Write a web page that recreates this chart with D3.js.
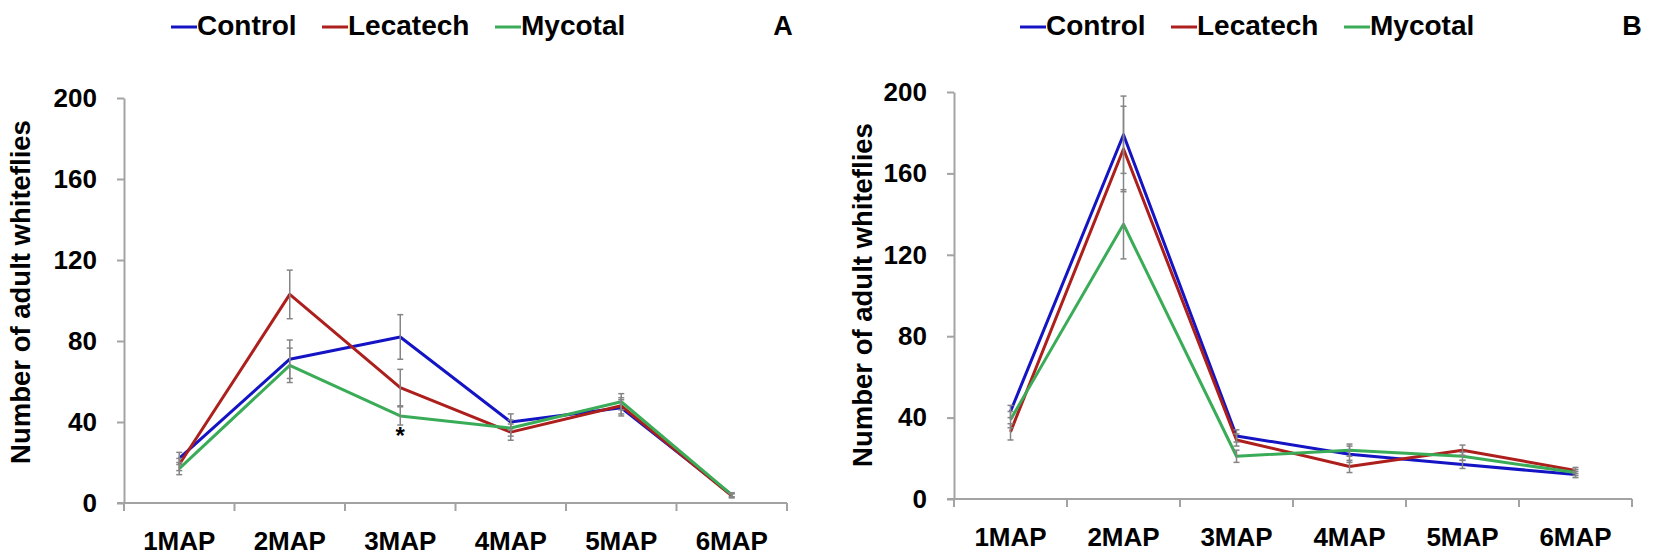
<!DOCTYPE html>
<html>
<head>
<meta charset="utf-8">
<script src="https://cdn.jsdelivr.net/npm/d3@7"></script>
<style>
  html, body { margin: 0; padding: 0; background: #fff; }
  svg { display: block; font-family: "Liberation Sans", Arial, sans-serif; }
</style>
</head>
<body>
<div id="svganchor"></div>
<script>
// categories (months after planting)
const categories = ["1MAP", "2MAP", "3MAP", "4MAP", "5MAP", "6MAP"];
const seriesNames = ["Control", "Lecatech", "Mycotal"];
const yTicks = [0, 40, 80, 120, 160, 200];

// panel A values (mean number of adult whiteflies) and error
const controlA = [22, 71, 82, 40, 47, 4];
const lecatechA = [19, 103, 57, 35, 48, 3.5];
const mycotalA = [17, 68, 43, 37, 50, 4];
const controlErrA = [3, 9.5, 11, 4, 4, 1];
const lecatechErrA = [3, 12, 9, 4, 4, 1];
const mycotalErrA = [3, 8.5, 4.5, 4, 4, 1];

// panel B values
const controlB = [43, 179, 31, 22, 17, 12];
const lecatechB = [33, 172, 29, 16, 24, 14];
const mycotalB = [39, 135, 21, 24, 21, 13];
const controlErrB = [3, 19, 3, 4, 2, 1.5];
const lecatechErrB = [4, 21, 3, 3, 2.5, 1.5];
const mycotalErrB = [4, 17, 3, 3, 2, 1.5];

const colors = ["#1414c4", "#ad1f1c", "#3aac58"];

const svg = d3.select("#svganchor")
  .append("svg")
  .attr("width", 1654)
  .attr("height", 556);

/*
------------------------------
METHOD: draw one panel
------------------------------
*/
function drawPanel(p) {
  const x = d3.scaleBand(categories, [p.left, p.right]);
  const y = d3.scaleLinear([0, 200], [p.bottom, p.top]);
  const g = svg.append("g");

  // y axis
  const yAxis = g.append("g")
    .attr("transform", `translate(${p.left},0)`)
    .call(d3.axisLeft(y).tickValues(yTicks).tickSize(7).tickSizeOuter(0).tickPadding(20));
  yAxis.select(".domain").attr("stroke", "#a3a3a3").attr("stroke-width", 2);
  yAxis.selectAll(".tick line").attr("stroke", "#a3a3a3").attr("stroke-width", 2);
  yAxis.selectAll(".tick text")
    .attr("fill", "#000")
    .style("font-size", "26px")
    .style("font-weight", "bold");

  // x axis line + boundary ticks
  g.append("line")
    .attr("x1", p.left - 7).attr("x2", p.right)
    .attr("y1", y(0)).attr("y2", y(0))
    .attr("stroke", "#a3a3a3").attr("stroke-width", 2);
  const bounds = categories.map(c => x(c)).concat([x.range()[1]]);
  g.selectAll(".xtick")
    .data(bounds)
    .join("line")
    .attr("class", "xtick")
    .attr("x1", d => d).attr("x2", d => d)
    .attr("y1", y(0)).attr("y2", y(0) + 8)
    .attr("stroke", "#a3a3a3").attr("stroke-width", 2);
  g.selectAll(".xlabel")
    .data(categories)
    .join("text")
    .attr("class", "xlabel")
    .attr("x", d => x(d) + x.bandwidth() / 2)
    .attr("y", y(0) + 47)
    .attr("text-anchor", "middle")
    .style("font-size", "26px")
    .style("font-weight", "bold")
    .text(d => d);

  // y axis title
  g.append("text")
    .attr("transform", `translate(${p.titleX},${p.titleY}) rotate(-90)`)
    .attr("text-anchor", "middle")
    .attr("dy", "0.35em")
    .style("font-size", "27.5px")
    .style("font-weight", "bold")
    .text("Number of adult whiteflies");

  // lines
  const line = d3.line()
    .x((d, i) => x(categories[i]) + x.bandwidth() / 2)
    .y(d => y(d));
  p.series.forEach((s, k) => {
    g.append("path")
      .datum(s)
      .attr("fill", "none")
      .attr("stroke", colors[k])
      .attr("stroke-width", 3)
      .attr("stroke-linejoin", "round")
      .attr("d", line);
  });

  // error bars
  p.series.forEach((s, k) => {
    const eb = s.map((v, i) => ({ c: categories[i], v: v, e: p.errors[k][i] }));
    const eg = g.append("g").attr("stroke", "#858585").attr("stroke-width", 1.5);
    eg.selectAll(".stem")
      .data(eb)
      .join("line")
      .attr("x1", d => x(d.c) + x.bandwidth() / 2)
      .attr("x2", d => x(d.c) + x.bandwidth() / 2)
      .attr("y1", d => y(d.v - d.e))
      .attr("y2", d => y(d.v + d.e));
    eg.selectAll(".capT")
      .data(eb)
      .join("line")
      .attr("x1", d => x(d.c) + x.bandwidth() / 2 - 3)
      .attr("x2", d => x(d.c) + x.bandwidth() / 2 + 3)
      .attr("y1", d => y(d.v + d.e))
      .attr("y2", d => y(d.v + d.e));
    eg.selectAll(".capB")
      .data(eb)
      .join("line")
      .attr("x1", d => x(d.c) + x.bandwidth() / 2 - 3)
      .attr("x2", d => x(d.c) + x.bandwidth() / 2 + 3)
      .attr("y1", d => y(d.v - d.e))
      .attr("y2", d => y(d.v - d.e));
  });

  // legend
  const lg = g.append("g");
  seriesNames.forEach((name, k) => {
    const lx = p.legendX[k];
    lg.append("line")
      .attr("x1", lx).attr("x2", lx + 26)
      .attr("y1", 27).attr("y2", 27)
      .attr("stroke", colors[k]).attr("stroke-width", 3);
    lg.append("text")
      .attr("x", lx + 26)
      .attr("y", 35)
      .style("font-size", "28px")
      .style("font-weight", "bold")
      .text(name);
  });

  // panel letter
  g.append("text")
    .attr("x", p.letterX)
    .attr("y", 35)
    .attr("text-anchor", "middle")
    .style("font-size", "27px")
    .style("font-weight", "bold")
    .text(p.letter);

  return { x, y, g };
}

const A = drawPanel({
  left: 124, right: 787, top: 98, bottom: 503,
  titleX: 20, titleY: 292,
  series: [controlA, lecatechA, mycotalA],
  errors: [controlErrA, lecatechErrA, mycotalErrA],
  legendX: [171, 322, 495],
  letter: "A", letterX: 783
});

// significance mark under Mycotal at 3MAP
A.g.append("text")
  .attr("x", A.x("3MAP") + A.x.bandwidth() / 2)
  .attr("y", A.y(mycotalA[2]) + 28)
  .attr("text-anchor", "middle")
  .style("font-size", "24px")
  .style("font-weight", "bold")
  .text("*");

drawPanel({
  left: 954, right: 1632, top: 92, bottom: 499,
  titleX: 862, titleY: 295,
  series: [controlB, lecatechB, mycotalB],
  errors: [controlErrB, lecatechErrB, mycotalErrB],
  legendX: [1020, 1171, 1344],
  letter: "B", letterX: 1632
});
</script>
</body>
</html>
